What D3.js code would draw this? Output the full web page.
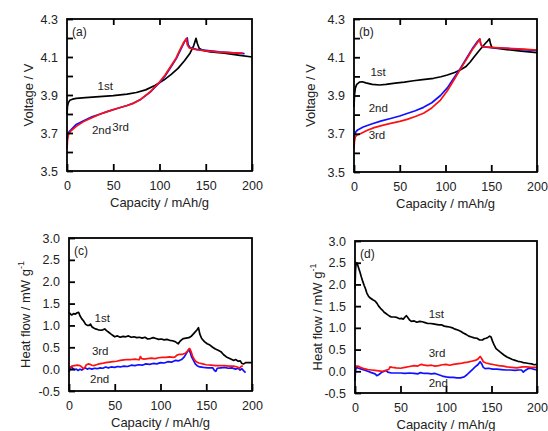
<!DOCTYPE html>
<html>
<head>
<meta charset="utf-8">
<script src="https://cdn.jsdelivr.net/npm/d3@7"></script>
<style>
  body { margin: 0; background: #fff; }
  svg { font-family: "Liberation Sans", Arial, sans-serif; }
</style>
</head>
<body>
<div id="chart"></div>
<script>
// ---- data: [capacity mAh/g, value] ----
const a1st = [[0,3.80],[0.5,3.84],[1.5,3.86],[3,3.872],[6,3.878],[10,3.882],[20,3.886],[35,3.891],[50,3.897],[65,3.905],[75,3.913],[85,3.927],[95,3.95],[105,3.98],[113,4.01],[120,4.04],[127,4.08],[133,4.12],[137,4.16],[139.5,4.198],[141,4.17],[143,4.145],[147,4.135],[155,4.127],[170,4.12],[185,4.11],[200,4.10]];
const a2nd = [[0,3.66],[0.5,3.69],[2,3.705],[5,3.72],[10,3.745],[18,3.765],[27,3.785],[36,3.80],[45,3.815],[55,3.83],[65,3.845],[72,3.858],[80,3.878],[90,3.915],[100,3.965],[106,4.0],[112,4.045],[118,4.09],[123,4.14],[127,4.18],[130,4.2],[131,4.165],[133,4.15],[140,4.14],[150,4.135],[165,4.127],[180,4.122],[192,4.118]];
const a3rd = [[0,3.615],[0.5,3.66],[1.5,3.69],[4,3.71],[10,3.735],[18,3.76],[27,3.78],[36,3.80],[45,3.815],[55,3.83],[65,3.845],[72,3.856],[80,3.878],[90,3.917],[100,3.968],[106,4.005],[112,4.05],[118,4.095],[122,4.137],[126,4.175],[129,4.198],[130,4.165],[132,4.148],[140,4.138],[150,4.132],[165,4.126],[180,4.122],[190,4.12]];

const b1st = [[0,3.84],[0.5,3.90],[1.5,3.94],[3,3.958],[6,3.97],[9,3.972],[13,3.966],[20,3.958],[28,3.955],[35,3.958],[45,3.965],[55,3.97],[65,3.977],[75,3.983],[87,3.99],[95,3.998],[102,4.007],[110,4.02],[116,4.033],[122,4.05],[127,4.075],[131,4.10],[136,4.13],[142,4.164],[146,4.185],[148,4.196],[149,4.175],[150.5,4.152],[155,4.147],[167,4.14],[180,4.133],[200,4.124]];
const b2nd = [[0,3.667],[0.5,3.69],[2,3.71],[4,3.72],[10,3.735],[20,3.752],[30,3.767],[40,3.78],[50,3.793],[58,3.806],[67,3.82],[76,3.838],[85,3.862],[94.5,3.90],[102,3.94],[109,3.99],[116,4.04],[123,4.095],[130,4.15],[134.5,4.18],[137.5,4.195],[138.5,4.17],[140,4.155],[150,4.15],[167,4.146],[185,4.14],[200,4.136]];
const b3rd = [[0,3.624],[0.5,3.66],[1.5,3.685],[4,3.695],[7,3.70],[14,3.717],[22,3.732],[31,3.744],[40,3.754],[50,3.765],[58,3.775],[67,3.79],[76,3.807],[85,3.835],[94.5,3.876],[102,3.925],[109,3.98],[116,4.035],[123.6,4.094],[130,4.145],[134.5,4.173],[137.5,4.196],[138.5,4.17],[140,4.155],[150,4.152],[167,4.147],[185,4.142],[200,4.138]];

const c1st = [[0,1.30],[1.5,1.26],[3,1.24],[5,1.27],[7,1.26],[9,1.29],[10.5,1.30],[12,1.22],[14,1.15],[16,1.1],[18,1.03],[20,1.0],[22,1.0],[23.5,1.03],[25,0.97],[27,0.94],[29,0.92],[32,0.9],[35,0.89],[37,0.9],[39,0.92],[41,0.88],[43,0.85],[46,0.8],[48,0.77],[50,0.74],[53,0.76],[56,0.73],[59,0.75],[62,0.74],[65,0.76],[68,0.73],[71,0.74],[74,0.72],[77,0.73],[80,0.71],[83,0.73],[86,0.69],[89,0.7],[92,0.72],[95,0.7],[98,0.68],[101,0.69],[104,0.67],[107,0.68],[110,0.66],[113,0.65],[116,0.63],[118,0.6],[119.5,0.58],[121,0.63],[123,0.67],[125,0.70],[128,0.71],[131,0.72],[134,0.76],[137,0.83],[140,0.9],[141.5,0.95],[143,0.8],[145,0.7],[148,0.63],[151,0.58],[154,0.55],[157,0.5],[160,0.46],[163,0.43],[166,0.4],[169,0.33],[172,0.28],[175,0.25],[178,0.22],[180,0.2],[182,0.22],[185,0.18],[187,0.19],[189,0.13],[191,0.12],[193,0.15],[196,0.15],[200,0.15]];
const c2nd = [[0,-0.07],[1,0.0],[2,0.05],[4,0.02],[6,-0.01],[8,0.0],[10,-0.03],[12,0.0],[14,-0.02],[16,0.01],[18,0.03],[20,0.0],[22,0.02],[25,0.0],[28,0.02],[31,0.01],[34,0.03],[37,0.02],[40,0.05],[43,0.03],[46,0.05],[50,0.04],[53,0.06],[56,0.05],[60,0.07],[64,0.06],[68,0.09],[72,0.08],[76,0.1],[80,0.09],[84,0.12],[88,0.11],[92,0.13],[96,0.12],[100,0.15],[104,0.14],[108,0.17],[112,0.16],[116,0.2],[120,0.19],[123,0.22],[126,0.28],[128,0.35],[130,0.42],[131,0.45],[132.5,0.38],[134,0.28],[136,0.2],[138,0.12],[140,0.08],[143,0.05],[147,0.04],[152,0.03],[157,0.03],[159,-0.03],[160.5,-0.05],[162,0.02],[166,0.03],[170,0.04],[174,0.02],[178,0.03],[182,0.0],[185,0.02],[187,-0.02],[189,0.01],[191,-0.04],[193,-0.08]];
const c3rd = [[0,0.0],[1,0.03],[3,0.07],[6,0.08],[9,0.09],[12,0.08],[14,0.05],[15.5,0.01],[17,0.03],[19,0.1],[21,0.12],[23,0.11],[25,0.09],[27,0.08],[30,0.1],[33,0.12],[36,0.13],[40,0.15],[44,0.16],[48,0.17],[52,0.18],[56,0.2],[60,0.21],[64,0.22],[68,0.22],[72,0.23],[75,0.22],[77,0.22],[78,0.29],[79.5,0.24],[82,0.23],[86,0.24],[90,0.25],[94,0.24],[98,0.26],[102,0.27],[106,0.27],[110,0.28],[114,0.27],[116,0.28],[118,0.32],[121,0.34],[124,0.34],[127,0.36],[129,0.40],[131,0.46],[132,0.47],[133.5,0.4],[135,0.3],[137,0.22],[139,0.17],[142,0.14],[146,0.12],[150,0.1],[155,0.09],[160,0.08],[165,0.08],[170,0.08],[175,0.07],[180,0.07],[184,0.05],[186.5,0.02],[188,0.06],[190,0.08]];

const d1st = [[0,1.9],[0.5,2.3],[1,2.45],[2,2.5],[3,2.45],[4,2.38],[5.5,2.28],[7,2.17],[8.5,2.07],[10,1.98],[11.5,1.9],[13,1.8],[14.5,1.74],[16,1.7],[18,1.67],[20,1.64],[22,1.62],[24,1.57],[26,1.5],[28,1.45],[30,1.41],[32,1.36],[34,1.33],[36,1.3],[38,1.27],[40,1.25],[43,1.25],[46,1.24],[49,1.21],[51,1.22],[53,1.2],[55,1.25],[56.5,1.28],[58,1.24],[60,1.18],[62,1.15],[65,1.16],[68,1.13],[71,1.15],[74,1.14],[77,1.12],[80,1.1],[83,1.1],[86,1.09],[89,1.08],[92,1.07],[95,1.07],[98,1.04],[101,1.03],[104,1.02],[107,1.0],[110,0.97],[113,0.95],[116,0.92],[119,0.88],[122,0.85],[125,0.81],[128,0.79],[131,0.77],[134,0.76],[137,0.72],[140,0.72],[142,0.75],[144,0.76],[146,0.78],[148,0.81],[149.5,0.79],[151,0.7],[153,0.6],[155,0.52],[158,0.47],[161,0.42],[164,0.37],[167,0.33],[170,0.3],[173,0.27],[176,0.25],[179,0.23],[182,0.22],[185,0.2],[188,0.19],[191,0.18],[194,0.17],[197,0.15],[200,0.16]];
const d2nd = [[0,-0.22],[0.5,0.0],[1.5,0.09],[4,0.07],[7,0.05],[10,0.03],[14,0.0],[18,-0.03],[22,-0.06],[24,-0.1],[26,-0.08],[29,-0.03],[32,0.0],[34,0.02],[36,-0.02],[40,-0.04],[45,-0.04],[50,-0.04],[55,-0.05],[60,-0.04],[65,-0.05],[69,-0.06],[72,-0.03],[76,-0.05],[80,-0.05],[84,-0.06],[88,-0.05],[92,-0.08],[96,-0.11],[100,-0.13],[104,-0.14],[108,-0.14],[112,-0.15],[116,-0.15],[120,-0.13],[123,-0.08],[126,-0.02],[129,0.04],[132,0.1],[135,0.15],[137.5,0.22],[139.5,0.16],[141,0.09],[143,0.06],[147,0.07],[151,0.05],[156,0.05],[161,0.04],[166,0.03],[171,0.03],[176,0.02],[180,0.03],[183,0.03],[185,-0.02],[187,0.02],[190,0.06],[193,0.07],[196,0.05],[200,0.03]];
const d3rd = [[0,0.07],[1,0.12],[3,0.12],[6,0.09],[10,0.06],[14,0.04],[18,0.03],[22,0.02],[26,0.01],[30,0.0],[34,0.02],[37,0.04],[38.5,0.1],[41,0.09],[45,0.08],[50,0.07],[55,0.09],[60,0.11],[65,0.13],[69,0.12],[73,0.16],[76,0.14],[80,0.13],[84,0.14],[88,0.12],[92,0.13],[96,0.15],[100,0.16],[104,0.14],[108,0.16],[112,0.17],[116,0.18],[120,0.2],[124,0.21],[128,0.23],[132,0.25],[135,0.28],[137.5,0.34],[139,0.3],[141,0.22],[144,0.19],[148,0.17],[153,0.15],[158,0.13],[163,0.12],[167,0.1],[172,0.09],[178,0.08],[184,0.1],[189,0.1],[194,0.09],[200,0.09]];

const xTicks = [0, 50, 100, 150, 200];
const vTicks = [3.5, 3.7, 3.9, 4.1, 4.3];
const vMinor = [3.6, 3.8, 4.0, 4.2];
const hTicks = [-0.5, 0.0, 0.5, 1.0, 1.5, 2.0, 2.5, 3.0];

// labels placed next to the curves: [capacity, value, text]
const aNotes = [[33, 3.926, "1st"], [27, 3.695, "2nd"], [49, 3.71, "3rd"]];
const bNotes = [[18, 4.002, "1st"], [16, 3.812, "2nd"], [16, 3.674, "3rd"]];
const cNotes = [[28, 1.085, "1st"], [25, 0.324, "3rd"], [23, -0.31, "2nd"]];
const dNotes = [[81, 1.234, "1st"], [81, 0.336, "3rd"], [81, -0.355, "2nd"]];

const BLACK = "#000", BLUE = "#1010ff", RED = "#ff1010";

const svg = d3.select("#chart").append("svg")
  .attr("width", 548).attr("height", 431);

function panel(o) {
  const x = d3.scaleLinear().domain([0, 200]).range([o.left, o.right]);
  const y = d3.scaleLinear().domain(o.yDomain).range([o.bottom, o.top]);
  const g = svg.append("g");

  // series
  const line = d3.line().x(d => x(d[0])).y(d => y(d[1]));
  o.series.forEach(s => {
    g.append("path").datum(s.data)
      .attr("fill", "none").attr("stroke", s.color)
      .attr("stroke-width", 1.7).attr("stroke-linejoin", "round")
      .attr("d", line);
  });

  // axes, ticks inward
  const xa = g.append("g").attr("transform", `translate(0,${o.bottom})`)
    .call(d3.axisBottom(x).tickValues(xTicks).tickSizeInner(-7).tickSizeOuter(0).tickPadding(10).tickFormat(d3.format("d")));
  const ya = g.append("g").attr("transform", `translate(${o.left},0)`)
    .call(d3.axisLeft(y).tickValues(o.yTicks).tickSizeInner(-6).tickSizeOuter(0).tickPadding(9).tickFormat(d3.format(".1f")));
  if (o.yMinor) {
    g.append("g").attr("transform", `translate(${o.left},0)`)
      .call(d3.axisLeft(y).tickValues(o.yMinor).tickSizeInner(-6).tickSizeOuter(0).tickFormat(""))
      .select(".domain").remove();
  }
  if (o.topTicks) {
    g.append("g").attr("transform", `translate(0,${o.top})`)
      .call(d3.axisTop(x).tickValues([50, 100, 150]).tickSizeInner(-6).tickSizeOuter(0).tickFormat(""))
      .select(".domain").remove();
  }
  [xa, ya].forEach(a => {
    a.select(".domain").remove();
    a.selectAll("text").attr("fill", "#222").style("font-size", "12.5px").style("font-family", "Liberation Sans, Arial, sans-serif");
  });
  g.selectAll("line").attr("stroke", "#000").attr("stroke-width", 1.8);
  ya.selectAll("text").text(d => d < 0 ? "-" + Math.abs(d).toFixed(1) : d.toFixed(1));

  g.append("rect")
    .attr("x", o.left).attr("y", o.top)
    .attr("width", o.right - o.left).attr("height", o.bottom - o.top)
    .attr("fill", "none").attr("stroke", "#000").attr("stroke-width", 1.8);

  // titles
  g.append("text")
    .attr("x", (o.left + o.right) / 2).attr("y", o.bottom + 36)
    .attr("text-anchor", "middle").attr("fill", "#222").style("font-size", "13px")
    .text("Capacity / mAh/g");
  const yt = g.append("text")
    .attr("transform", `translate(${o.yTitleX},${(o.top + o.bottom) / 2}) rotate(-90)`)
    .attr("text-anchor", "middle").attr("fill", "#222").style("font-size", "13px");
  if (o.heat) {
    yt.append("tspan").text("Heat flow / mW g");
    yt.append("tspan").attr("dy", -6).style("font-size", "9px").text("-1");
  } else {
    yt.text("Voltage / V");
  }

  g.append("text")
    .attr("x", o.left + 5).attr("y", o.top + 17)
    .attr("fill", "#222").style("font-size", "12px").text(o.tag);

  o.notes.forEach(n => {
    g.append("text").attr("x", x(n[0])).attr("y", y(n[1]))
      .attr("fill", "#222").style("font-size", "11.5px").text(n[2]);
  });
}

panel({ left: 67, right: 252, top: 19, bottom: 171, yDomain: [3.5, 4.3], yTicks: vTicks, yMinor: vMinor,
  topTicks: true, yTitleX: 33, tag: "(a)", notes: aNotes,
  series: [{ data: a1st, color: BLACK }, { data: a2nd, color: BLUE }, { data: a3rd, color: RED }] });
panel({ left: 354, right: 537, top: 19, bottom: 172, yDomain: [3.5, 4.3], yTicks: vTicks, yMinor: vMinor,
  topTicks: true, yTitleX: 315, tag: "(b)", notes: bNotes,
  series: [{ data: b1st, color: BLACK }, { data: b2nd, color: BLUE }, { data: b3rd, color: RED }] });
panel({ left: 69, right: 252, top: 238, bottom: 391, yDomain: [-0.5, 3.0], yTicks: hTicks,
  yTitleX: 30, tag: "(c)", notes: cNotes, heat: true,
  series: [{ data: c1st, color: BLACK }, { data: c2nd, color: BLUE }, { data: c3rd, color: RED }] });
panel({ left: 355, right: 537, top: 241, bottom: 393, yDomain: [-0.5, 3.0], yTicks: hTicks,
  yTitleX: 322, tag: "(d)", notes: dNotes, heat: true,
  series: [{ data: d1st, color: BLACK }, { data: d2nd, color: BLUE }, { data: d3rd, color: RED }] });
</script>
</body>
</html>
